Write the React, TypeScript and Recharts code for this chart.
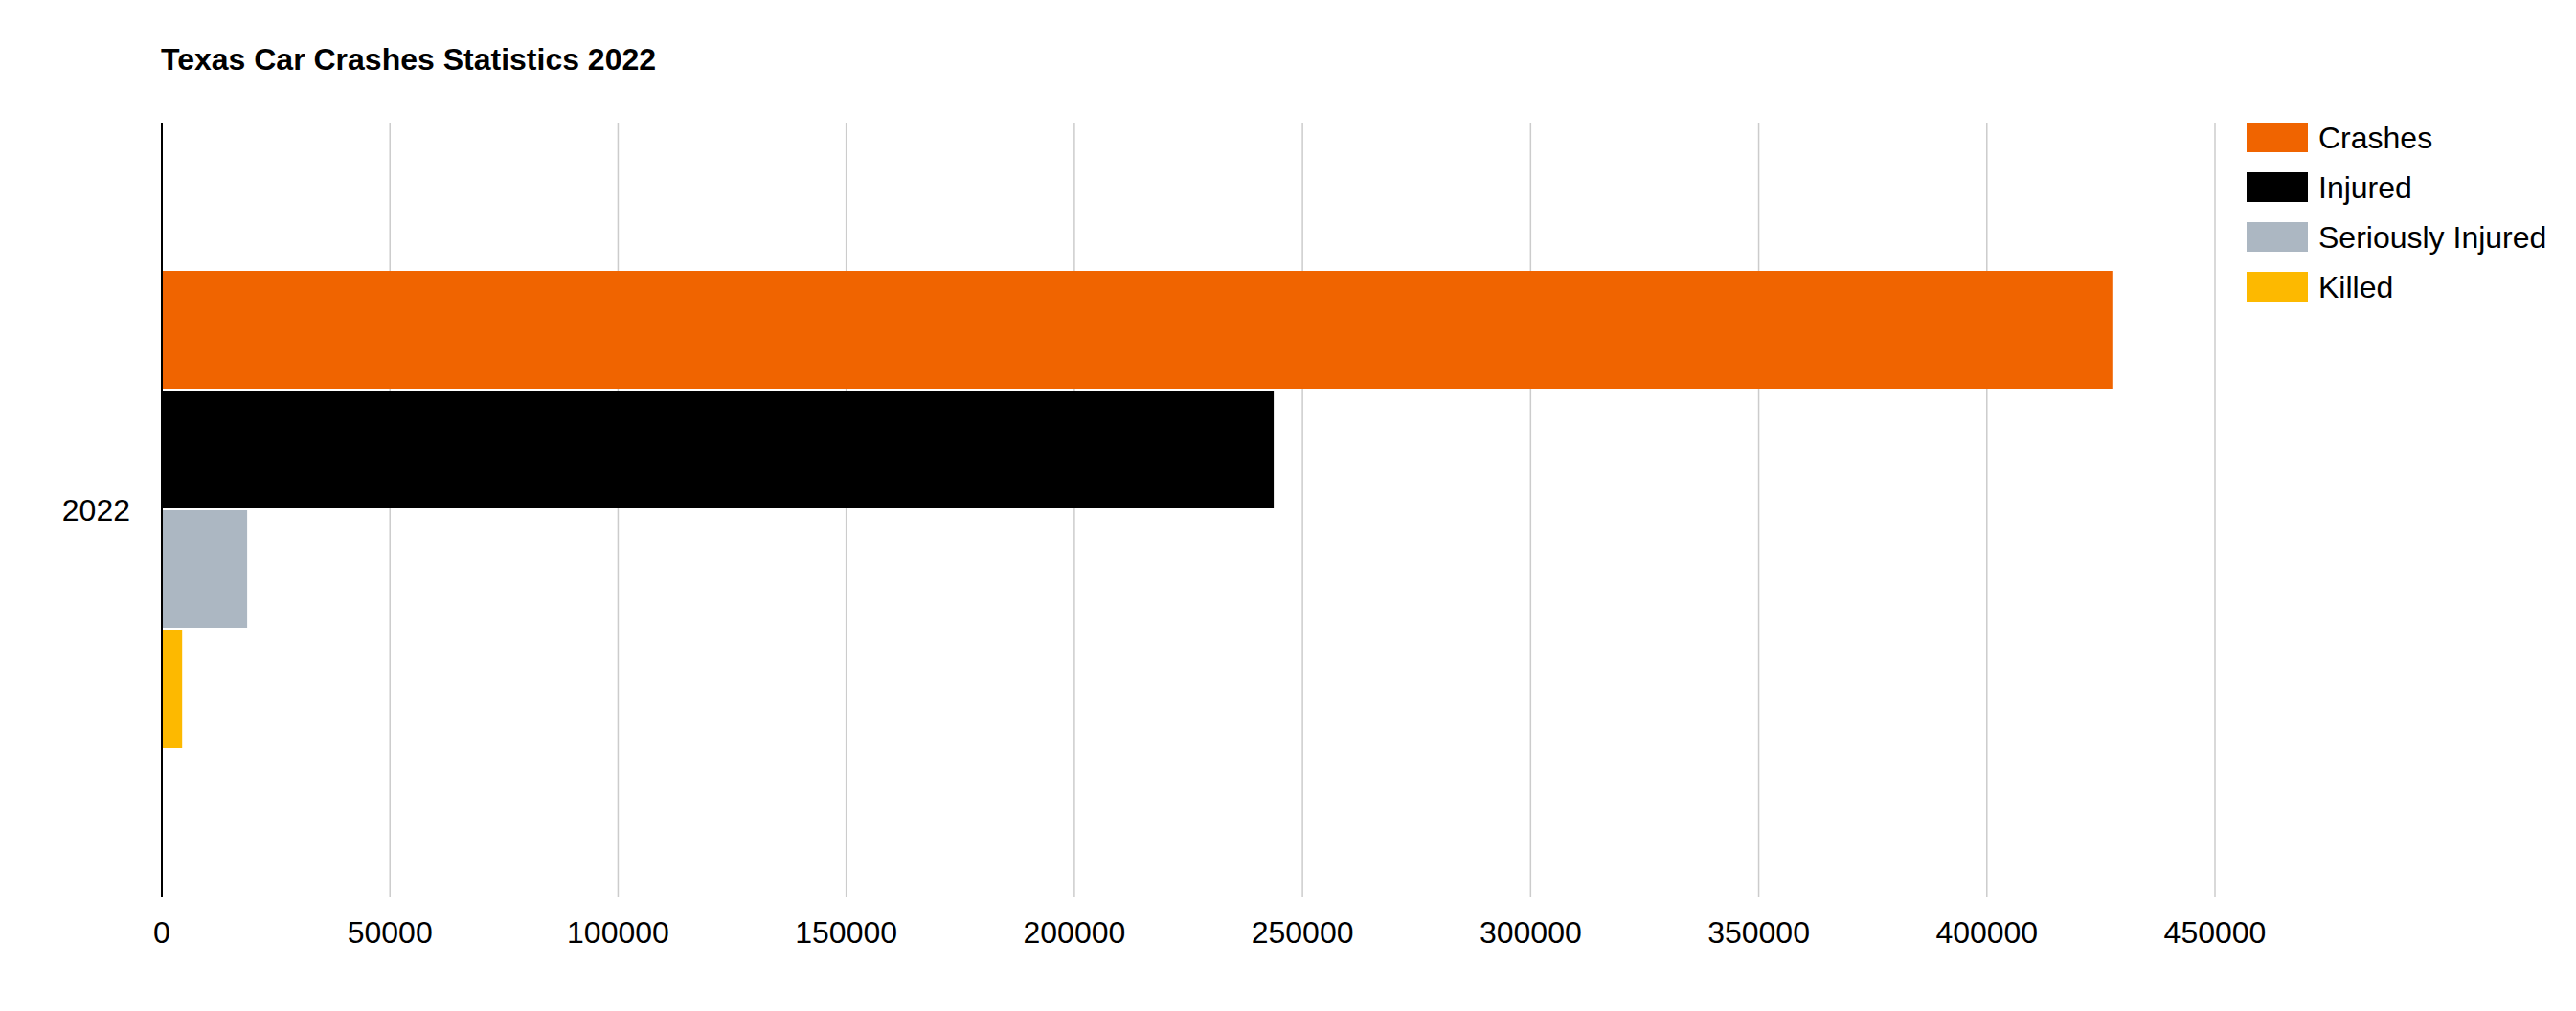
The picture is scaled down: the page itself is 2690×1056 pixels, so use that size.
import { Bar, BarChart, CartesianGrid, XAxis, YAxis } from 'recharts';

const categories = ['2022'];
const crashes = [427500];
const injured = [243700];
const seriouslyInjured = [18700];
const killed = [4450];
const xTicks = [0, 50000, 100000, 150000, 200000, 250000, 300000, 350000, 400000, 450000];

const series = [
  { key: 'crashes', name: 'Crashes', color: '#F06400' },
  { key: 'injured', name: 'Injured', color: '#000000' },
  { key: 'seriouslyInjured', name: 'Seriously Injured', color: '#ACB7C2' },
  { key: 'killed', name: 'Killed', color: '#FDB900' },
];

const data = categories.map((year, i) => ({
  year,
  crashes: crashes[i],
  injured: injured[i],
  seriouslyInjured: seriouslyInjured[i],
  killed: killed[i],
}));

const FONT = '"Liberation Sans", Arial, Helvetica, sans-serif';

export default function App() {
  return (
    <div
      style={{
        position: 'absolute',
        left: 0,
        top: 0,
        width: 2690,
        height: 1056,
        background: '#fff',
        fontFamily: FONT,
      }}
    >
      {/* CHART */}
      <BarChart
        width={2690}
        height={1056}
        data={data}
        layout="vertical"
        margin={{ top: 128, right: 377, bottom: 0, left: 69 }}
        barCategoryGap={155}
        barGap={2}
      >
        <CartesianGrid horizontal={false} stroke="#cccccc" strokeWidth={1.5} />
        <XAxis
          type="number"
          domain={[0, 450000]}
          ticks={xTicks}
          interval={0}
          height={119}
          axisLine={false}
          tickLine={false}
          tickSize={0}
          tickMargin={25}
          tick={{ fontSize: 32, fill: '#000', fontFamily: FONT }}
        />
        <YAxis
          type="category"
          dataKey="year"
          width={100}
          axisLine={{ stroke: '#000', strokeWidth: 2 }}
          tickLine={false}
          tickSize={0}
          tickMargin={33}
          tick={{ fontSize: 32, fill: '#000', fontFamily: FONT }}
        />
        {series.map((s) => (
          <Bar key={s.key} dataKey={s.key} name={s.name} fill={s.color} isAnimationActive={false} />
        ))}
      </BarChart>

      {/* TITLE */}
      <div
        style={{
          position: 'absolute',
          left: 168,
          top: 46,
          fontSize: 32,
          lineHeight: '32px',
          fontWeight: 700,
          color: '#000',
          whiteSpace: 'nowrap',
        }}
      >
        Texas Car Crashes Statistics 2022
      </div>

      {/* LEGEND */}
      <div style={{ position: 'absolute', left: 2346, top: 128 }}>
        {series.map((s) => (
          <div
            key={s.key}
            style={{ display: 'flex', alignItems: 'center', height: 31, marginBottom: 21 }}
          >
            <div style={{ width: 64, height: 31, background: s.color }} />
            <span
              style={{
                marginLeft: 11,
                fontSize: 32,
                lineHeight: '32px',
                color: '#000',
                whiteSpace: 'nowrap',
              }}
            >
              {s.name}
            </span>
          </div>
        ))}
      </div>
    </div>
  );
}
